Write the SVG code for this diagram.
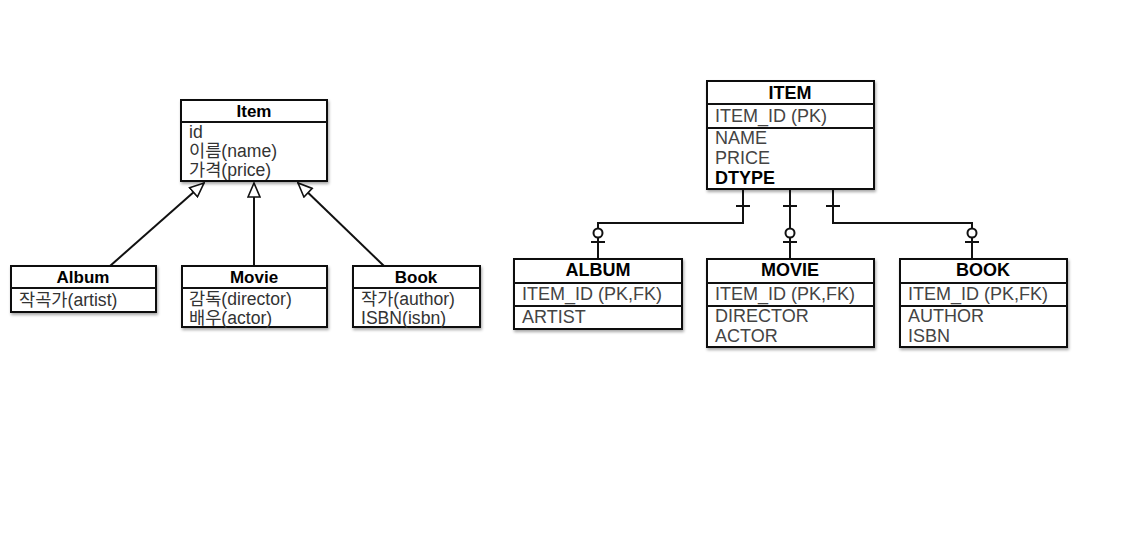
<svg xmlns="http://www.w3.org/2000/svg" width="1122" height="538" viewBox="0 0 1122 538">
<style>
.box{fill:#fff;stroke:#111;stroke-width:2;filter:url(#sh)}
.div{stroke:#111;stroke-width:2}
.t{font-family:"Liberation Sans","Noto Sans CJK KR",sans-serif;font-size:17.6px;fill:#333}
.h{font-family:"Liberation Sans","Noto Sans CJK KR",sans-serif;font-size:17px;font-weight:bold;fill:#000;text-anchor:middle}
.te{font-family:"Liberation Sans",sans-serif;font-size:18px;fill:#444}
.he{font-family:"Liberation Sans",sans-serif;font-size:18px;font-weight:bold;fill:#000;text-anchor:middle}
.ln{fill:none;stroke:#111;stroke-width:2}
.ci{fill:#fff;stroke:#111;stroke-width:2}
</style>
<defs>
<filter id="sh" x="-10%" y="-10%" width="130%" height="140%">
<feDropShadow dx="1" dy="2" stdDeviation="1.5" flood-color="#000" flood-opacity="0.35"/>
</filter>
<marker id="tri" viewBox="0 0 16 14" refX="15" refY="7" markerWidth="16" markerHeight="14" markerUnits="userSpaceOnUse" orient="auto">
<path d="M1,1 L15,7 L1,13 z" fill="#fff" stroke="#111" stroke-width="1.6"/>
</marker>
</defs>
<rect width="1122" height="538" fill="#fff"/>

<g id="connectors">
<line class="ln" x1="110" y1="266" x2="204" y2="183" marker-end="url(#tri)"/>
<line class="ln" x1="254" y1="266" x2="254" y2="183" marker-end="url(#tri)"/>
<line class="ln" x1="384" y1="266" x2="298" y2="183" marker-end="url(#tri)"/>

<polyline class="ln" points="743,189 743,223 598,223 598,259"/>
<line class="ln" x1="736" y1="206" x2="750" y2="206"/>
<line class="ln" x1="591" y1="242" x2="605" y2="242"/>
<circle class="ci" cx="598" cy="233" r="4.5"/>

<polyline class="ln" points="790,189 790,259"/>
<line class="ln" x1="783" y1="206" x2="797" y2="206"/>
<line class="ln" x1="783" y1="242" x2="797" y2="242"/>
<circle class="ci" cx="790" cy="233" r="4.5"/>

<polyline class="ln" points="833,189 833,223 972,223 972,259"/>
<line class="ln" x1="826" y1="206" x2="840" y2="206"/>
<line class="ln" x1="965" y1="242" x2="979" y2="242"/>
<circle class="ci" cx="972" cy="233" r="4.5"/>
</g>

<g id="item">
<rect class="box" x="181" y="100" width="146" height="81"/>
<line class="div" x1="181" y1="122" x2="327" y2="122"/>
<text class="h" x="254" y="117">Item</text>
<text class="t" x="189" y="138">id</text>
<text class="t" x="189" y="157">이름(name)</text>
<text class="t" x="189" y="176">가격(price)</text>
</g>

<g id="album">
<rect class="box" x="11" y="266" width="145" height="46"/>
<line class="div" x1="11" y1="288" x2="156" y2="288"/>
<text class="h" x="83" y="283">Album</text>
<text class="t" x="19" y="306">작곡가(artist)</text>
</g>

<g id="movie">
<rect class="box" x="182" y="266" width="145" height="61"/>
<line class="div" x1="182" y1="288" x2="327" y2="288"/>
<text class="h" x="254" y="283">Movie</text>
<text class="t" x="189" y="305">감독(director)</text>
<text class="t" x="189" y="324">배우(actor)</text>
</g>

<g id="book">
<rect class="box" x="353" y="266" width="127" height="61"/>
<line class="div" x1="353" y1="288" x2="480" y2="288"/>
<text class="h" x="416" y="283">Book</text>
<text class="t" x="361" y="305">작가(author)</text>
<text class="t" x="361" y="324">ISBN(isbn)</text>
</g>

<g id="ITEM">
<rect class="box" x="707" y="81" width="167" height="108"/>
<line class="div" x1="707" y1="104" x2="874" y2="104"/>
<line class="div" x1="707" y1="128" x2="874" y2="128"/>
<text class="he" x="790" y="99">ITEM</text>
<text class="te" x="715" y="122">ITEM_ID (PK)</text>
<text class="te" x="715" y="144">NAME</text>
<text class="te" x="715" y="164">PRICE</text>
<text class="te" x="715" y="184" style="font-weight:bold;fill:#000">DTYPE</text>
</g>

<g id="ALBUM">
<rect class="box" x="514" y="259" width="168" height="70"/>
<line class="div" x1="514" y1="283" x2="682" y2="283"/>
<line class="div" x1="514" y1="306" x2="682" y2="306"/>
<text class="he" x="598" y="276">ALBUM</text>
<text class="te" x="522" y="300">ITEM_ID (PK,FK)</text>
<text class="te" x="522" y="323">ARTIST</text>
</g>

<g id="MOVIE">
<rect class="box" x="707" y="259" width="167" height="88"/>
<line class="div" x1="707" y1="283" x2="874" y2="283"/>
<line class="div" x1="707" y1="306" x2="874" y2="306"/>
<text class="he" x="790" y="276">MOVIE</text>
<text class="te" x="715" y="300">ITEM_ID (PK,FK)</text>
<text class="te" x="715" y="322">DIRECTOR</text>
<text class="te" x="715" y="342">ACTOR</text>
</g>

<g id="BOOK">
<rect class="box" x="900" y="259" width="167" height="88"/>
<line class="div" x1="900" y1="283" x2="1067" y2="283"/>
<line class="div" x1="900" y1="306" x2="1067" y2="306"/>
<text class="he" x="983" y="276">BOOK</text>
<text class="te" x="908" y="300">ITEM_ID (PK,FK)</text>
<text class="te" x="908" y="322">AUTHOR</text>
<text class="te" x="908" y="342">ISBN</text>
</g>
</svg>
